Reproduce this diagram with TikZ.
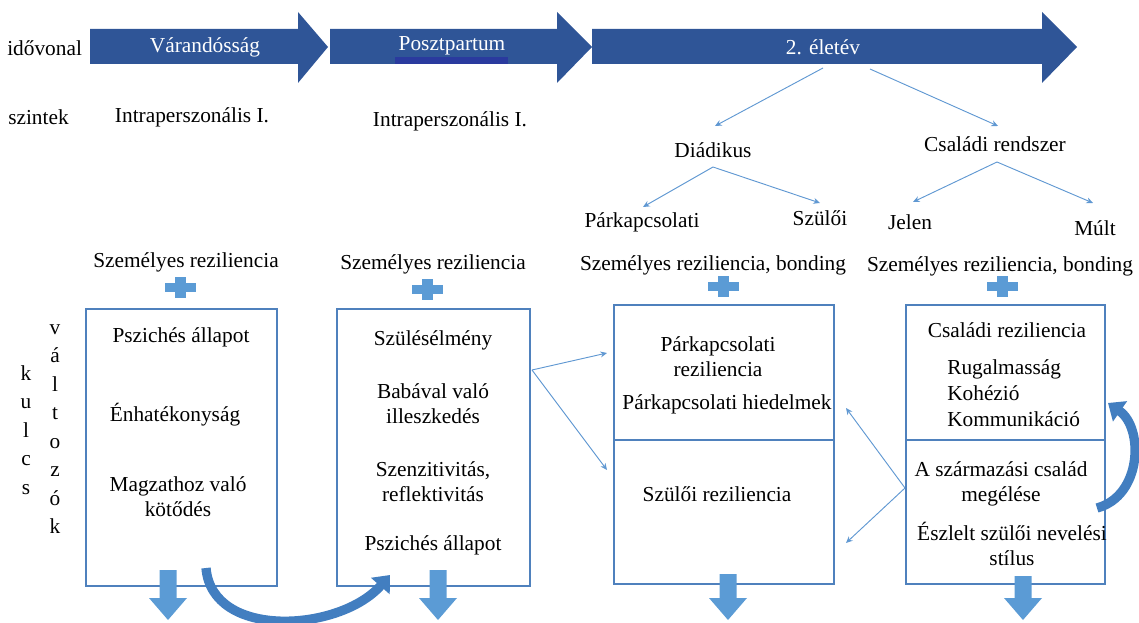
\documentclass[tikz,border=0pt]{standalone}
\usepackage{fontspec}
\setmainfont{Liberation Serif}
\usetikzlibrary{arrows.meta, positioning, fit}
\definecolor{timeblue}{RGB}{47,85,151}
\definecolor{accblue}{RGB}{91,155,213}
\definecolor{curveblue}{RGB}{66,126,192}
\definecolor{boxline}{RGB}{79,129,189}
\definecolor{linkblue}{RGB}{96,152,210}
\definecolor{markblue}{RGB}{42,58,158}
\tikzset{
  bodytext/.style={font=\fontsize{16}{18.75}\selectfont, align=center, inner sep=0pt},
  whitetext/.style={bodytext, text=white},
  stagebox/.style={draw=boxline, line width=0.8pt, inner sep=0pt},
  thinlink/.style={draw=linkblue, line width=0.7pt, -{Stealth[length=5pt,width=4.5pt]}},
  bigcurve/.style={draw=curveblue, line width=7pt, -{Triangle[length=11pt,width=18pt]}}
}
\newcommand{\lettercol}[1]{\fontsize{16}{21.4}\selectfont #1}

\begin{document}
\begin{tikzpicture}[x=0.75pt, y=-0.75pt, >=stealth]
  \useasboundingbox (0,0) rectangle (1139,623);

  % timeline arrows
  \fill[timeblue] (90,29) -- (298,29) -- (298,12) -- (328,47) -- (298,83) -- (298,64) -- (90,64) -- cycle;
  \fill[timeblue] (330,29) -- (557,29) -- (557,12) -- (592,47) -- (557,83) -- (557,64) -- (330,64) -- cycle;
  \fill[timeblue] (592,29) -- (1042,29) -- (1042,12) -- (1077,47) -- (1042,83) -- (1042,64) -- (592,64) -- cycle;
  \fill[markblue] (395,57) rectangle (508,64);
  \node[bodytext, anchor=west] (timelbl) at (7,48) {idővonal};
  \node[whitetext] (stage1) at (205,47) {Várandósság};
  \node[whitetext] (stage2) at (452,46) {Posztpartum};
  \node[whitetext] (stage3) at (823,47) {2. életév};

  % levels
  \node[bodytext, anchor=west] (levellbl) at (8,117) {szintek};
  \node[bodytext] (intra1) at (192,117) {Intraperszonális I.};
  \node[bodytext] (intra2) at (450,121) {Intraperszonális I.};
  \node[bodytext] (dyad) at (713,150) {Diádikus};
  \node[bodytext] (famsys) at (995,144) {Családi rendszer};
  \node[bodytext] (couple) at (642,222) {Párkapcsolati};
  \node[bodytext] (parent) at (820,218) {Szülői};
  \node[bodytext] (present) at (910,222) {Jelen};
  \node[bodytext] (past) at (1095,228) {Múlt};

  % tree links
  \coordinate (s3a) at (823,68);
  \coordinate (s3b) at (870,69);
  \coordinate (dyadtop) at (715,126);
  \coordinate (famtop) at (998,126);
  \coordinate (dyadbot) at (713,167);
  \coordinate (fambot) at (997,162);
  \draw[thinlink] (s3a) -- (dyadtop);
  \draw[thinlink] (s3b) -- (famtop);
  \draw[thinlink] (dyadbot) -- (643,207);
  \draw[thinlink] (dyadbot) -- (820,203);
  \draw[thinlink] (fambot) -- (913,202);
  \draw[thinlink] (fambot) -- (1093,203);

  % personal resilience + plus signs
  \node[bodytext] (pers1) at (186,262) {Személyes reziliencia};
  \node[bodytext] (pers2) at (433,264) {Személyes reziliencia};
  \node[bodytext] (pers3) at (713,265) {Személyes reziliencia, bonding};
  \node[bodytext] (pers4) at (1000,266) {Személyes reziliencia, bonding};
  \foreach \px/\py in {180/288, 427/290, 723/287, 1002/287} {
    \fill[accblue] (\px-15.5,\py-4.5) rectangle (\px+15.5,\py+4.5);
    \fill[accblue] (\px-5.5,\py-10.5) rectangle (\px+5.5,\py+10.5);
  }

  % key variables label
  \node[bodytext, font=\lettercol{}] (kulcs) at (26,430) {k\\u\\l\\c\\s};
  \node[bodytext, font=\lettercol{}] (valtozok) at (55,429) {v\\á\\l\\t\\o\\z\\ó\\k};

  % boxes
  \node[stagebox, fit={(86,309) (277,586)}] (box1) {};
  \node[stagebox, fit={(337,309) (530,586)}] (box2) {};
  \node[stagebox, fit={(614,305) (834,584)}] (box3) {};
  \node[stagebox, fit={(906,305) (1105,584)}] (box4) {};
  \draw[draw=boxline, line width=0.8pt] (614,440) -- (834,440);
  \draw[draw=boxline, line width=0.8pt] (906,440) -- (1105,440);

  % box contents
  \node[bodytext] (b1a) at (181,337) {Pszichés állapot};
  \node[bodytext] (b1b) at (175,415) {Énhatékonyság};
  \node[bodytext] (b1c) at (178,497) {Magzathoz való\\kötődés};
  \node[bodytext] (b2a) at (433,340) {Szülésélmény};
  \node[bodytext] (b2b) at (433,404) {Babával való\\illeszkedés};
  \node[bodytext] (b2c) at (433,482) {Szenzitivitás,\\reflektivitás};
  \node[bodytext] (b2d) at (433,545) {Pszichés állapot};
  \node[bodytext] (b3a) at (718,357) {Párkapcsolati\\reziliencia};
  \node[bodytext] (b3b) at (727,404) {Párkapcsolati hiedelmek};
  \node[bodytext] (b3c) at (717,494) {Szülői reziliencia};
  \node[bodytext] (b4a) at (1007,330) {Családi reziliencia};
  \node[bodytext, font=\fontsize{16}{19.5}\selectfont, align=left, anchor=west] (b4b) at (947,393) {Rugalmasság\\Kohézió\\Kommunikáció};
  \node[bodytext] (b4c) at (1001,484) {A származási család\\megélése};
  \node[bodytext] (b4d) at (1012,544) {Észlelt szülői nevelési\\stílus};

  % links between boxes
  \coordinate (out2) at (532,370);
  \coordinate (out4) at (905,488);
  \draw[thinlink] (out2) -- (607,353);
  \draw[thinlink] (out2) -- (607,470);
  \draw[thinlink] (out4) -- (846,408);
  \draw[thinlink] (out4) -- (846,543);

  % down arrows
  \foreach \ax/\ay in {168/570, 438/570, 728/574, 1023/576} {
    \fill[accblue] (\ax-8.5,\ay) -- (\ax+8.5,\ay) -- (\ax+8.5,598) -- (\ax+19,598)
      -- (\ax,620) -- (\ax-19,598) -- (\ax-8.5,598) -- cycle;
  }

  % curved arrows
  \draw[bigcurve] (206,568) .. controls (212,640) and (340,632) .. (390,575);
  \draw[bigcurve] (1097,508) .. controls (1142,496) and (1144,428) .. (1108,403);
\end{tikzpicture}
\end{document}
